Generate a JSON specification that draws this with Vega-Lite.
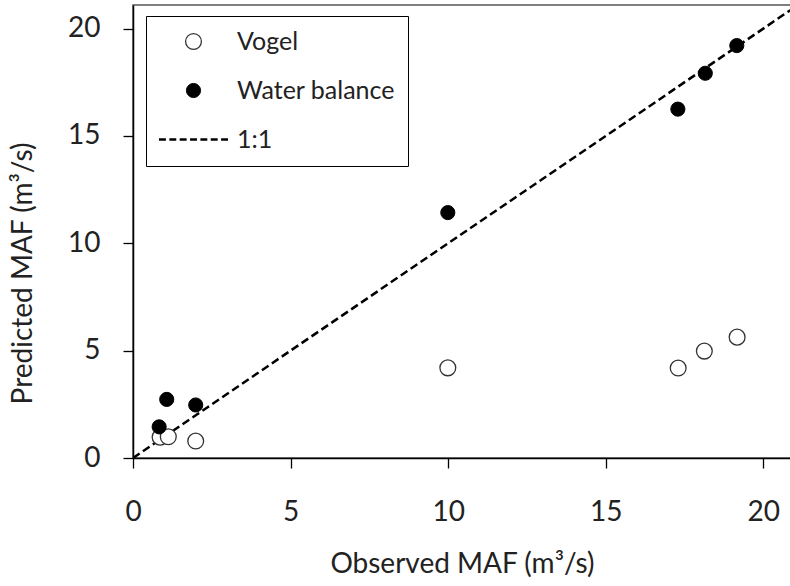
{
  "$schema": "https://vega.github.io/schema/vega-lite/v6.json",
  "width": 658,
  "height": 453,
  "autosize": {"type": "none"},
  "padding": {"left": 133, "top": 5, "right": 0, "bottom": 128},
  "background": "white",
  "config": {
    "view": {"stroke": "#555", "strokeWidth": 1.5},
    "font": "Lato",
    "axis": {
      "domainColor": "#000",
      "domainWidth": 1.5,
      "tickColor": "#000",
      "tickWidth": 1.3,
      "tickSize": 10,
      "grid": false,
      "labelFlush": false,
      "labelFont": "Lato",
      "labelFontSize": 28,
      "labelColor": "#222",
      "titleFont": "Lato",
      "titleFontSize": 28,
      "titleFontWeight": "normal",
      "titleColor": "#222"
    }
  },
  "layer": [
    {
      "data": {"values": [{"x": 0, "y": 0}, {"x": 21.2, "y": 21.2}]},
      "mark": {"type": "line", "color": "#000", "strokeWidth": 2.5, "strokeDash": [8, 4], "clip": true},
      "encoding": {
        "x": {"field": "x", "type": "quantitative"},
        "y": {"field": "y", "type": "quantitative"}
      }
    },
    {
      "data": {
        "values": [
          {"series": "Vogel", "observed": 0.86, "predicted": 0.97},
          {"series": "Vogel", "observed": 1.12, "predicted": 0.99},
          {"series": "Vogel", "observed": 1.99, "predicted": 0.79},
          {"series": "Vogel", "observed": 9.99, "predicted": 4.2},
          {"series": "Vogel", "observed": 17.3, "predicted": 4.19},
          {"series": "Vogel", "observed": 18.13, "predicted": 4.98},
          {"series": "Vogel", "observed": 19.17, "predicted": 5.63},
          {"series": "Water balance", "observed": 0.83, "predicted": 1.45},
          {"series": "Water balance", "observed": 1.07, "predicted": 2.73},
          {"series": "Water balance", "observed": 1.99, "predicted": 2.47},
          {"series": "Water balance", "observed": 9.99, "predicted": 11.43},
          {"series": "Water balance", "observed": 17.29, "predicted": 16.25},
          {"series": "Water balance", "observed": 18.16, "predicted": 17.92},
          {"series": "Water balance", "observed": 19.16, "predicted": 19.21}
        ]
      },
      "mark": {"type": "point", "filled": true, "opacity": 1, "clip": true},
      "encoding": {
        "x": {
          "field": "observed",
          "type": "quantitative",
          "scale": {"domain": [0, 20.88], "nice": false, "zero": false},
          "axis": {
            "title": "Observed MAF (m³/s)",
            "values": [0, 5, 10, 15, 20],
            "labelBaseline": "alphabetic",
            "labelPadding": 52,
            "titleBaseline": "alphabetic",
            "titleY": 114
          }
        },
        "y": {
          "field": "predicted",
          "type": "quantitative",
          "scale": {"domain": [0, 21.1], "nice": false, "zero": false},
          "axis": {
            "title": "Predicted MAF (m³/s)",
            "values": [0, 5, 10, 15, 20],
            "labelPadding": 23,
            "labelBaseline": "middle",
            "titleX": -96,
            "titleY": 268
          }
        },
        "shape": {
          "field": "series",
          "type": "nominal",
          "scale": {
            "domain": ["Vogel", "Water balance", "1:1"],
            "range": ["circle", "circle", "M-4.5,0H-3.6M-3.15,0H-2.25M-1.8,0H-0.9M-0.45,0H0.45M0.9,0H1.8M2.25,0H3.15M3.6,0H4.5"]
          },
          "legend": {
            "title": null,
            "orient": "none",
            "legendX": 13,
            "legendY": 11,
            "padding": 13,
            "rowPadding": 23,
            "labelFont": "Lato",
            "labelFontSize": 25,
            "labelColor": "#222",
            "symbolOffset": 22,
            "labelOffset": 31,
            "strokeColor": "#000",
            "fillColor": "#fff"
          }
        },
        "fill": {
          "field": "series",
          "type": "nominal",
          "scale": {"domain": ["Vogel", "Water balance", "1:1"], "range": ["#fff", "#000", "transparent"]}
        },
        "stroke": {
          "field": "series",
          "type": "nominal",
          "scale": {"domain": ["Vogel", "Water balance", "1:1"], "range": ["#333", "#000", "#000"]}
        },
        "size": {
          "field": "series",
          "type": "nominal",
          "scale": {"type": "ordinal", "domain": ["Vogel", "Water balance", "1:1"], "range": [250, 200, 235]}
        },
        "strokeWidth": {
          "field": "series",
          "type": "nominal",
          "scale": {"type": "ordinal", "domain": ["Vogel", "Water balance", "1:1"], "range": [1.3, 1, 2.5]}
        }
      }
    }
  ]
}
